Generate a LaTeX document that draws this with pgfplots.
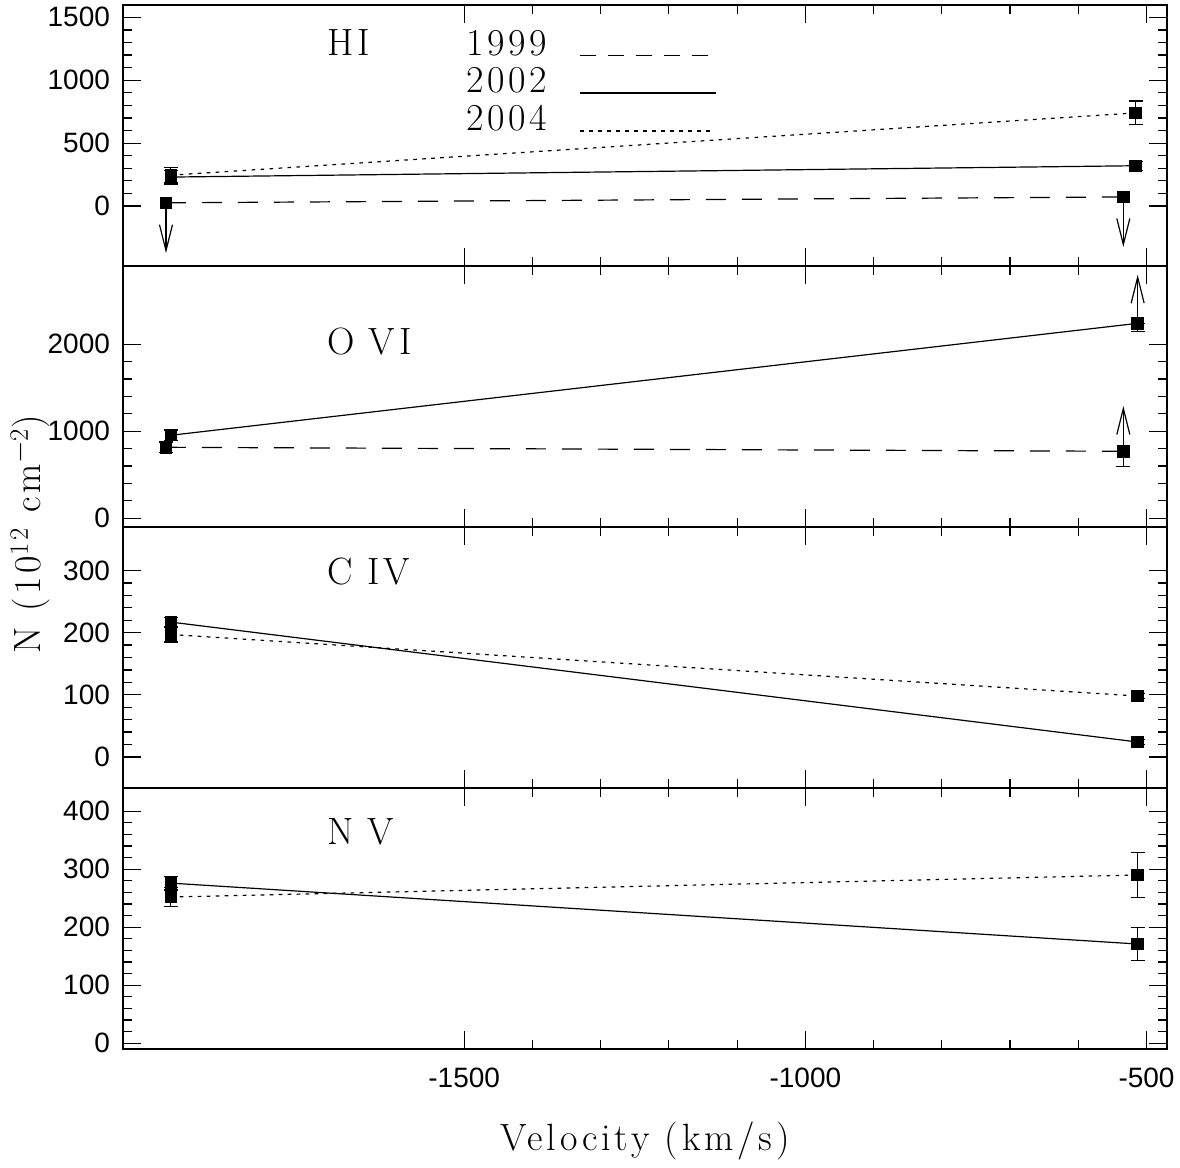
\documentclass[border=0pt]{standalone}
\usepackage{fontspec}
\usepackage{pgfplots}
\pgfplotsset{compat=1.18}
\usetikzlibrary{arrows.meta}
\newfontfamily\tickfont{Liberation Sans}
\newfontfamily\pgfont{lmroman17-regular.otf}[LetterSpace=10]

\pgfplotsset{
  panel/.style={
    scale only axis, width=522pt, height=130.5pt, anchor=south west,
    xmin=-2000, xmax=-470, xtick={-1500,-1000,-500}, minor x tick num=4,
    tick align=inside, tick pos=both,
    major tick length=9pt, minor tick length=4.5pt,
    axis line style={line width=0.9pt},
    every tick/.style={line width=0.6pt, black},
    ticklabel style={font=\tickfont\fontsize{14pt}{16pt}\selectfont},
    yticklabel style={xshift=-3pt},
    xticklabel style={yshift=-6pt},
    /pgf/number format/assume math mode=true,
    /pgf/number format/1000 sep={},
    minor y tick num=4,
    clip=false,
  },
  y99/.style={black, line width=0.6pt, dash pattern=on 10pt off 8pt, mark=square*, mark size=2.8pt, mark options={solid}},
  y02/.style={black, line width=0.6pt, solid, mark=square*, mark size=2.8pt},
  y04/.style={black, line width=0.6pt, dash pattern=on 1.8pt off 2.7pt, mark=square*, mark size=2.8pt, mark options={solid}},
  eb/.style={error bars/.cd, y dir=both, y explicit,
    error bar style={line width=0.6pt, solid, black},
    error mark options={rotate=90, mark size=3.5pt, line width=0.6pt, solid, black}},
  lim/.style={black, line width=0.6pt, solid, no marks, forget plot,
    -{Straight Barb[length=13pt, width=6.5pt, line width=0.6pt]}},
}
\tikzset{lab/.style={anchor=base west, xshift=-3pt, font=\pgfont\fontsize{19pt}{21pt}\selectfont}}

\begin{document}
\begin{tikzpicture}
\useasboundingbox (-61.5pt,-59.5pt) rectangle (528.5pt,524.5pt);

% ---------------- HI ----------------
\begin{axis}[panel, at={(0,391.5pt)}, ymin=-477, ymax=1598, ytick={0,500,1000,1500}, xticklabels={}]
\addplot[lim] coordinates {(-1937,25) (-1937,-375)};
\addplot[lim] coordinates {(-534,72) (-534,-326)};
\addplot[y99] coordinates {(-1937,25) (-534,72)};
\addplot[y02, eb] coordinates {(-1930,230) +- (0,55) (-516,320) +- (0,36)};
\addplot[y04, eb] coordinates {(-1930,245) +- (0,60) (-516,740) +- (0,95)};
\node[lab] at (rel axis cs:0.195,0.808) {HI};
\node[lab] at (rel axis cs:0.3276,0.808) {1999};
\node[lab] at (rel axis cs:0.3276,0.665) {2002};
\node[lab] at (rel axis cs:0.3276,0.519) {2004};
\draw[black, line width=0.6pt, dash pattern=on 8pt off 6pt] (rel axis cs:0.4377,0.808) -- (rel axis cs:0.565,0.808);
\draw[black, line width=0.6pt] (rel axis cs:0.4377,0.663) -- (rel axis cs:0.568,0.663);
\draw[black, line width=0.6pt, dash pattern=on 1.8pt off 2.7pt] (rel axis cs:0.4377,0.517) -- (rel axis cs:0.565,0.517);
\end{axis}

% ---------------- O VI ----------------
\begin{axis}[panel, at={(0,261pt)}, ymin=-100, ymax=2900, ytick={0,1000,2000}, xticklabels={}]
\addplot[lim] coordinates {(-513,2241) (-513,2800)};
\addplot[lim] coordinates {(-534,770) (-534,1290)};
\addplot[y99, eb] coordinates {(-1937,816) +- (0,60) (-534,770) += (0,0) -= (0,172)};
\addplot[y02, eb] coordinates {(-1930,954) +- (0,60) (-513,2241) += (0,0) -= (0,92)};
\node[lab] at (rel axis cs:0.195,0.659) {O\hspace{7pt}VI};
\end{axis}

% ---------------- C IV ----------------
\begin{axis}[panel, at={(0,130.5pt)}, ymin=-50, ymax=370, ytick={0,100,200,300}, xticklabels={}]
\addplot[y02, eb] coordinates {(-1930,217) +- (0,8) (-513,24) +- (0,4)};
\addplot[y04, eb] coordinates {(-1930,197) +- (0,12) (-513,98) +- (0,4)};
\node[lab] at (rel axis cs:0.195,0.779) {C\hspace{7pt}IV};
\end{axis}

% ---------------- N V ----------------
\begin{axis}[panel, at={(0,0pt)}, ymin=-10, ymax=440, ytick={0,100,200,300,400}]
\addplot[y02, eb] coordinates {(-1930,276) +- (0,12) (-513,171) +- (0,28)};
\addplot[y04, eb] coordinates {(-1930,252) +- (0,16) (-513,290) +- (0,39)};
\node[lab] at (rel axis cs:0.195,0.785) {N\hspace{7pt}V};
\end{axis}

\node[font=\pgfont\fontsize{19pt}{21pt}\selectfont, anchor=center] at (261pt,-46pt) {Velocity (km/s)};
\node[font=\pgfont\fontsize{19pt}{21pt}\selectfont, rotate=90, anchor=center] at (-46.5pt,257.5pt) {N (10\textsuperscript{12} cm\textsuperscript{$-$2})};
\end{tikzpicture}
\end{document}
